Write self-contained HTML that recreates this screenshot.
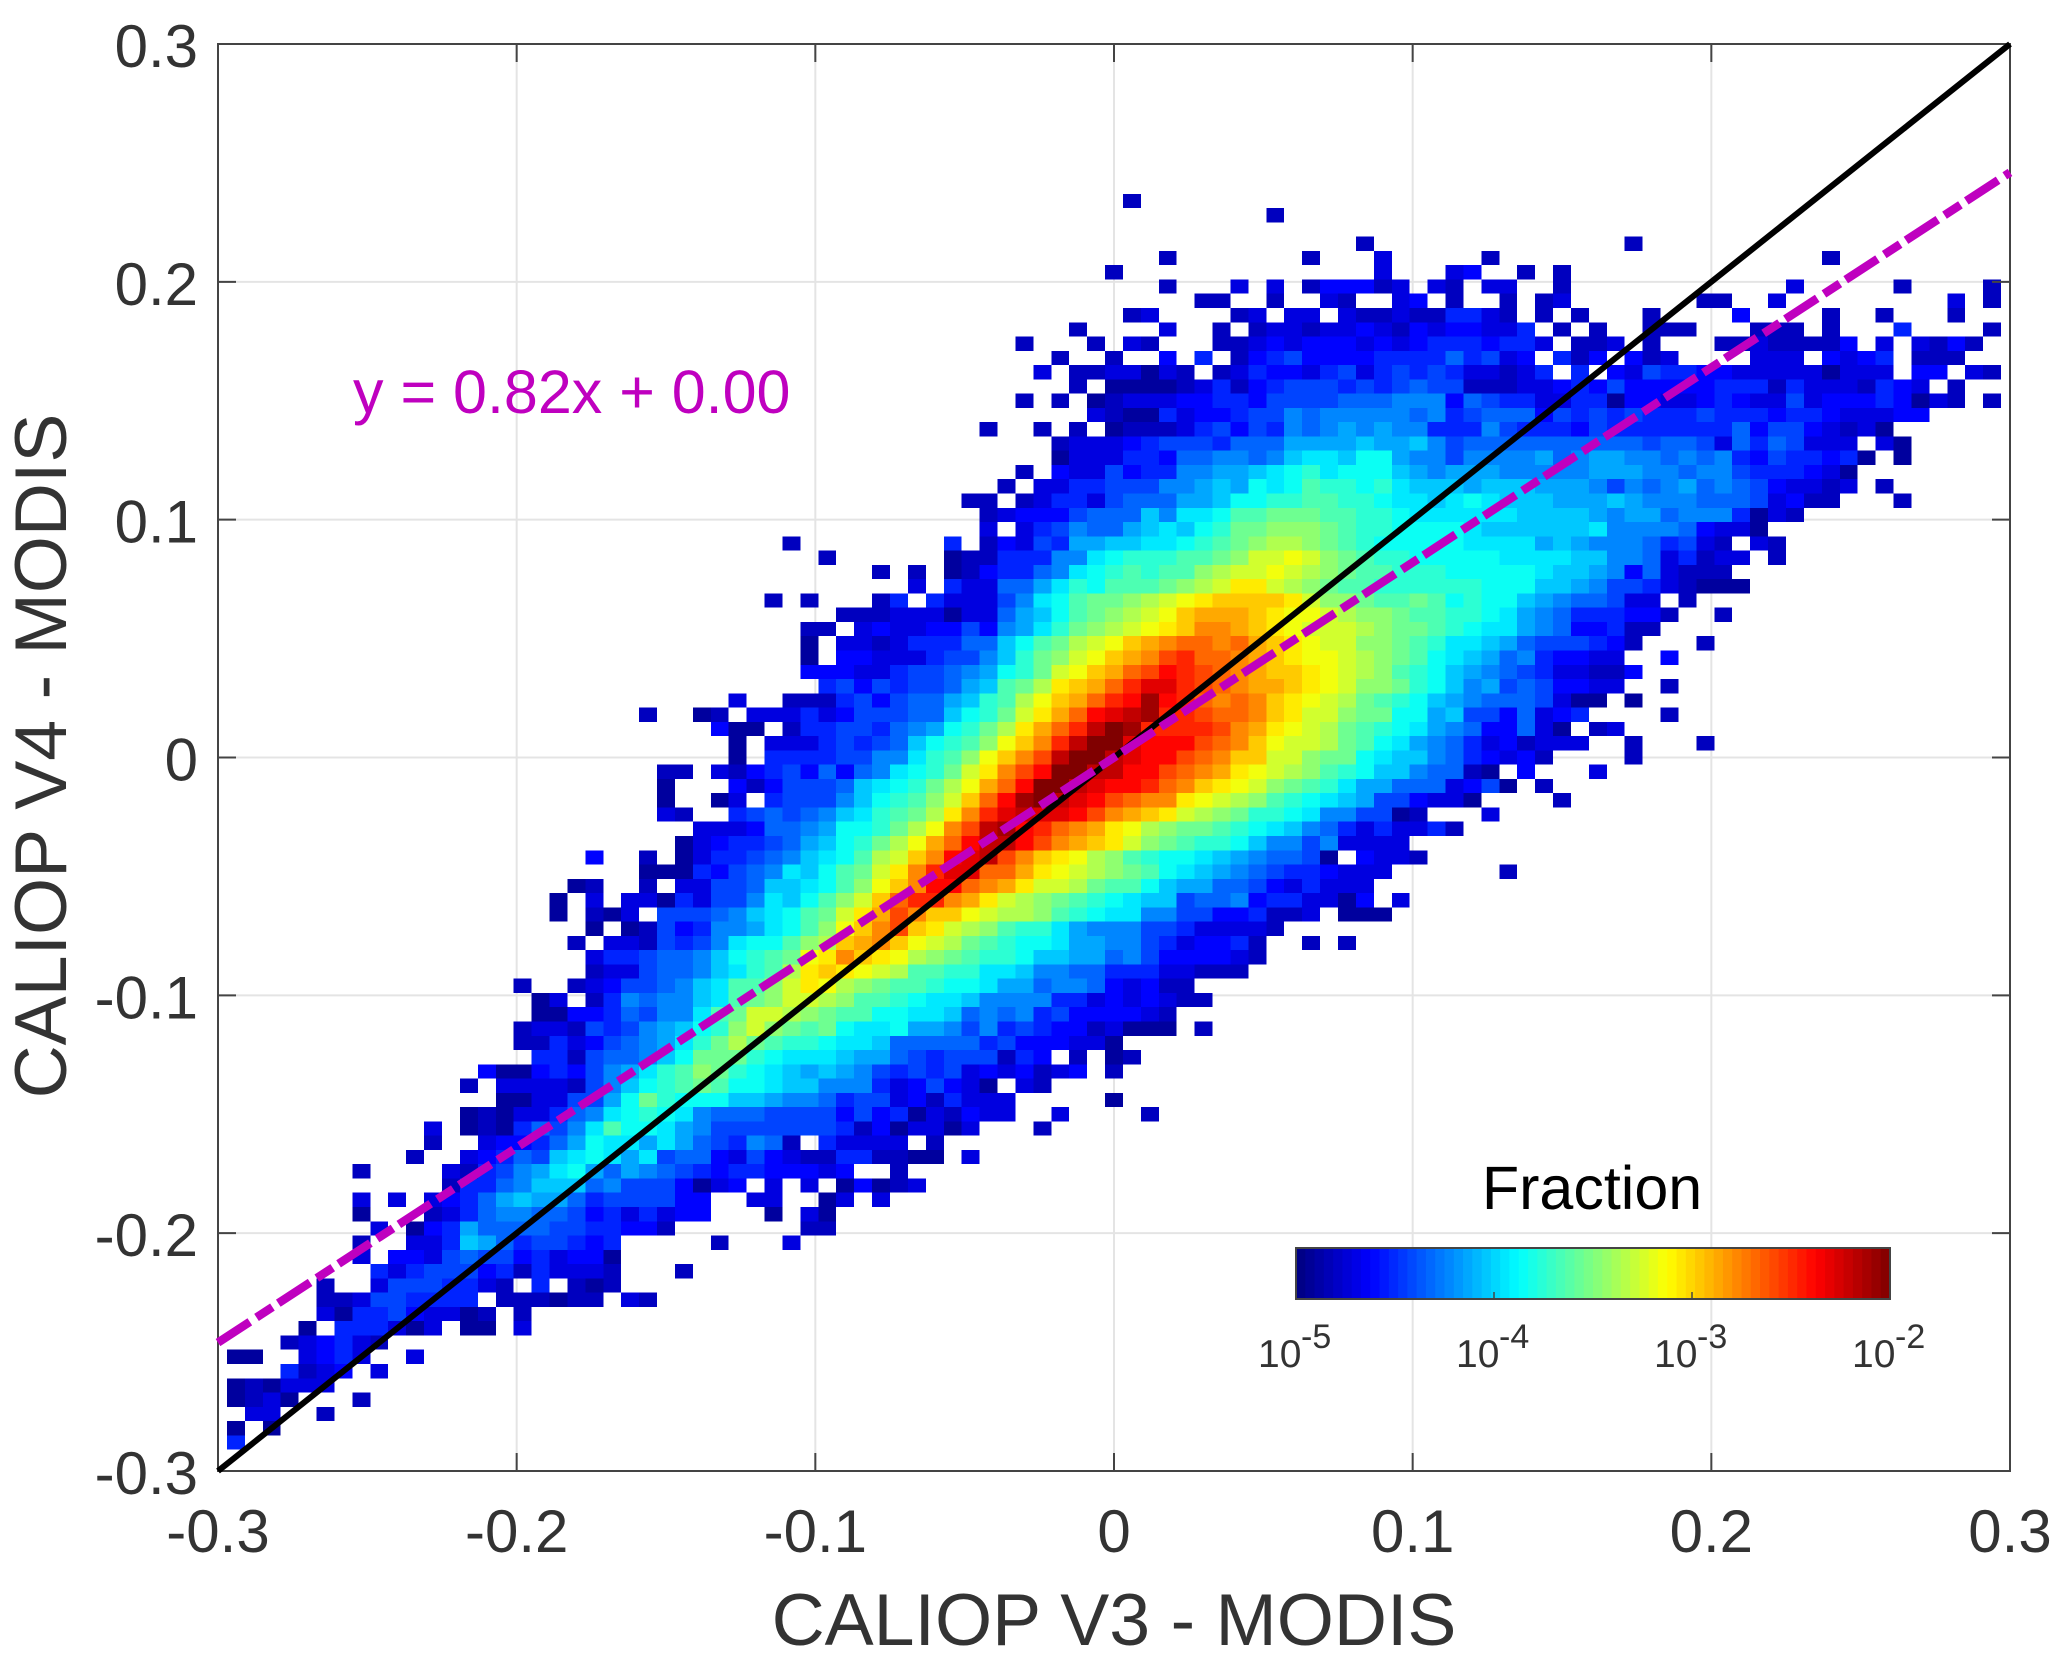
<!DOCTYPE html>
<html lang="en">
<head>
<meta charset="utf-8">
<title>CALIOP V4 vs V3 density</title>
<style>
html,body{margin:0;padding:0;background:#fff;}
svg{display:block;font-family:"Liberation Sans",Arial,sans-serif;}
</style>
</head>
<body>
<svg id="chart" width="2067" height="1665" viewBox="0 0 2067 1665" xmlns="http://www.w3.org/2000/svg">
<g id="grid"></g>
<g id="cells" shape-rendering="crispEdges"></g>
<g id="axes"></g>
<g id="lines"></g>
<g id="colorbar"></g>
<text x="1114" y="1645" text-anchor="middle" font-size="73.5" fill="#333">CALIOP V3 - MODIS</text>
<text transform="translate(66,756) rotate(-90)" text-anchor="middle" font-size="73.5" fill="#333">CALIOP V4 - MODIS</text>
<text x="353" y="413" font-size="61" fill="#bf00bf">y = 0.82x + 0.00</text>
<text x="1592" y="1209" text-anchor="middle" font-size="61" fill="#000">Fraction</text>
</svg>
<script>
const xTickValues = [-0.3, -0.2, -0.1, 0, 0.1, 0.2, 0.3];
const yTickValues = [-0.3, -0.2, -0.1, 0, 0.1, 0.2, 0.3];
const colorbarExponents = [-5, -4, -3, -2];
const fitSlope = [0.82];
const fitIntercept = [0.00];
const identityEnds = [-0.3, 0.3];
const binSize = 0.006;
const binOriginX = -0.297;
const binOriginY = 0.297;
const firstRowIndex = 10;
/* Cell level L: 0 = no samples, otherwise fraction = 10^(-5 + (L-1)/10). One entry per row, top row first. */
const heatRowStart = [50,58,0,63,52,49,52,54,50,47,44,46,45,47,44,48,42,46,46,44,43,41,42,42,31,33,36,38,30,34,32,32,32,32,33,28,23,27,28,28,24,24,24,24,26,25,20,23,19,18,18,20,19,20,20,16,17,17,16,16,17,14,13,15,13,11,11,10,7,12,7,7,8,7,7,8,5,5,5,4,3,0,3,0,0,1,0,0];
const heatRowLevels = [
[2],
[2],
[],
[2,0,0,0,0,0,0,0,0,0,0,0,0,0,0,2],
[2,0,0,0,0,0,0,0,2,0,0,0,3,0,0,0,0,0,2,0,0,0,0,0,0,0,0,0,0,0,0,0,0,0,0,0,0,2],
[2,0,0,0,0,0,0,0,0,0,0,0,0,0,0,3,0,0,0,3,4,0,0,2,0,2],
[2,0,0,0,3,0,3,0,2,4,4,4,2,3,0,3,2,0,3,3,0,0,2,0,0,0,0,0,0,0,0,0,0,0,0,3,0,0,0,0,0,2,0,0,0,0,2],
[2,2,0,0,2,0,0,3,2,0,0,3,4,0,2,0,0,2,0,2,3,0,0,0,0,0,0,0,2,2,0,0,3,0,0,0,0,0,0,0,0,0,3,0,2],
[2,3,0,0,0,0,2,3,0,3,3,0,3,2,2,3,2,2,5,5,3,2,0,2,0,2,0,0,0,2,0,0,0,0,4,0,0,0,0,2,0,0,2,0,0,0,2],
[2,0,0,0,0,3,0,0,2,0,2,3,3,2,3,3,4,3,2,4,3,4,4,3,3,5,0,2,0,2,0,0,2,2,2,0,0,0,2,2,2,0,2,0,0,0,5,0,0,0,0,2],
[2,0,0,0,2,0,3,2,0,0,0,2,2,3,4,3,4,4,4,3,4,3,4,5,5,5,4,5,5,3,0,2,2,3,0,2,0,0,0,2,2,3,2,2,2,2,4,0,3,0,3,2,4,2],
[2,0,0,2,0,0,4,0,5,0,2,4,5,6,4,4,4,4,5,5,5,5,7,5,6,3,4,0,5,2,4,0,4,2,3,0,0,0,0,3,3,3,0,4,3,4,5,0,2,2,2],
[3,0,2,2,3,3,1,3,2,0,2,3,5,4,4,3,5,6,3,5,6,5,6,5,3,3,2,3,5,0,5,0,4,3,6,5,5,4,4,3,3,3,3,3,1,3,3,3,0,4,4,0,3,2],
[2,0,1,1,1,1,2,3,5,2,4,5,6,6,6,5,6,5,6,7,6,6,2,2,2,3,3,4,5,4,6,4,4,4,4,4,5,5,5,2,5,3,3,3,2,5,4,3,0,2],
[2,0,2,0,1,2,3,3,3,4,4,5,5,4,6,6,6,6,7,7,7,8,8,8,4,7,6,5,5,3,3,5,5,1,4,4,3,3,4,5,4,3,3,6,3,4,4,4,5,4,1,3,2,0,2],
[3,2,1,1,5,3,4,4,5,6,6,8,7,8,8,8,8,8,7,8,5,6,7,7,7,4,6,5,6,5,6,5,5,5,6,5,5,5,4,5,5,4,3,3,3,4,4],
[2,0,0,2,0,2,0,1,2,2,2,3,5,6,4,6,5,8,7,8,9,8,9,8,8,5,5,5,8,6,5,5,5,4,6,5,5,5,5,5,5,5,7,4,6,6,4,3,2,3,1],
[2,3,3,3,4,5,6,6,6,5,7,7,7,9,9,9,9,10,9,9,10,8,6,7,7,7,7,7,7,7,7,7,7,6,7,7,6,3,7,5,7,6,3,3,3,0,3,1],
[1,3,3,3,5,5,4,7,7,8,8,7,8,10,11,11,10,12,12,9,8,8,6,8,8,8,8,9,7,8,9,9,8,8,7,8,7,8,5,4,6,5,5,4,5,1,0,1],
[2,0,4,3,3,6,4,5,5,8,8,9,9,10,11,12,13,11,12,12,12,10,9,8,9,9,9,8,8,8,8,8,9,9,9,8,8,7,8,8,6,5,5,5,4,3,1],
[2,0,3,3,5,5,6,6,6,8,8,9,10,9,12,11,12,14,13,13,12,13,11,10,10,10,9,10,10,10,9,9,9,8,6,8,7,8,9,7,8,7,6,4,3,3,2,3,0,2],
[2,2,0,2,3,5,5,3,6,7,7,7,9,9,10,12,12,13,13,14,14,13,13,12,11,11,10,11,12,11,10,10,10,9,9,9,10,9,8,8,8,7,7,7,6,3,4,2,2,0,0,0,2],
[2,3,4,4,4,6,7,7,7,10,8,11,11,12,14,14,15,15,15,14,14,13,13,12,11,11,11,11,11,11,10,10,10,10,9,8,9,9,7,8,8,8,5,1,3,2],
[3,0,3,5,6,8,7,7,9,10,11,10,12,13,15,15,16,16,16,15,14,13,13,12,12,12,12,11,10,10,10,10,10,10,11,8,8,8,8,7,4,3,3,1],
[2,0,0,0,0,0,0,0,0,5,0,2,4,3,6,5,9,9,10,10,11,11,12,13,14,15,16,17,17,16,15,14,13,12,12,12,12,12,11,11,11,11,9,10,9,8,8,8,7,5,6,3,2,0,3,2],
[2,0,0,0,0,0,0,1,2,2,5,5,5,8,8,11,12,13,13,13,14,14,15,16,18,18,19,18,16,15,14,13,13,12,12,12,12,12,11,11,11,11,10,10,8,8,7,3,5,2,3,3,0,2],
[2,0,2,0,1,2,4,5,5,7,8,11,12,13,14,13,14,14,16,17,18,18,19,18,17,16,15,14,14,13,13,13,12,12,12,12,12,11,10,10,9,8,4,7,3,2,2,2],
[3,0,5,3,3,7,7,9,11,13,12,14,14,14,15,16,17,18,20,20,18,17,16,15,14,14,13,13,13,13,13,13,12,12,12,10,10,9,8,6,6,5,3,2,1,1,1],
[2,0,2,0,0,0,2,5,0,5,3,3,3,6,8,11,12,14,15,15,16,17,18,19,20,21,21,21,21,20,18,16,16,15,14,14,15,14,12,13,12,12,10,9,8,7,7,6,3,3,0,2],
[2,2,2,3,3,3,1,3,3,7,9,10,12,14,15,16,17,18,19,21,22,22,22,21,20,19,19,18,17,16,16,15,14,14,13,13,12,11,9,8,7,5,5,5,4,4,2,0,0,2],
[2,2,0,3,4,3,3,4,4,6,4,8,9,11,13,15,16,17,18,19,20,21,23,23,22,21,20,19,18,18,18,17,16,15,15,14,13,12,11,11,9,8,7,4,4,5,2,2],
[1,0,3,3,2,3,5,5,5,7,7,10,12,14,15,17,18,19,21,22,23,24,24,23,24,22,21,20,19,18,18,16,16,15,14,13,11,11,10,9,7,6,6,6,5,4,2,0,0,0,2],
[1,0,4,4,3,3,3,5,6,6,8,10,13,15,16,18,19,21,22,23,25,26,24,24,23,22,21,20,19,19,18,17,16,15,14,12,11,10,9,7,8,5,4,4,3,3,0,0,4],
[4,4,4,3,3,5,6,6,7,8,9,12,13,15,18,19,21,22,24,25,27,26,25,24,23,22,21,21,20,19,18,17,16,14,13,12,10,9,8,7,6,5,3,3,2,2,4],
[5,6,4,6,5,6,6,7,9,10,14,15,17,20,21,22,24,26,28,28,26,25,24,23,22,22,21,20,19,18,16,16,15,13,12,10,8,9,6,7,6,4,4,3,3,0,0,2],
[3,0,0,2,2,2,5,6,4,6,7,7,9,10,13,14,17,19,21,22,24,26,27,30,27,26,24,23,24,23,21,20,19,18,17,15,14,13,12,10,9,8,7,7,7,6,3,1,1,0,1],
[2,0,0,1,2,0,3,3,3,5,3,4,6,6,6,7,7,10,12,13,15,18,20,22,24,27,28,29,30,26,26,25,24,24,23,21,20,18,18,16,15,15,12,12,9,10,6,6,4,7,3,4,5,0,0,0,0,2],
[4,1,1,0,2,5,5,6,6,5,7,8,9,12,13,15,17,20,22,24,26,29,31,30,26,26,26,26,25,23,22,20,19,18,17,15,14,13,12,11,9,8,7,4,4,7,3,1,0,2,3],
[1,0,3,3,3,5,6,5,6,7,10,12,13,14,16,19,21,23,26,29,31,31,28,27,27,27,25,24,23,21,19,18,18,17,15,14,12,11,9,8,7,5,3,4,2,3,3,3,0,0,2,0,0,0,2],
[1,0,5,5,5,5,6,6,8,8,11,13,14,16,19,21,23,25,29,31,31,29,28,27,27,25,24,23,21,21,18,18,16,15,15,12,11,10,10,8,7,5,4,3,4,2,0,0,0,0,2],
[2,2,0,3,2,4,5,6,4,7,4,7,8,11,12,13,15,18,20,23,25,27,31,31,29,29,27,27,25,24,23,22,20,19,18,17,16,14,13,12,10,10,8,7,7,2,1,0,4,0,0,0,3],
[1,0,0,0,4,2,4,6,6,6,7,10,11,12,13,15,17,19,22,24,27,31,31,29,28,27,27,26,24,23,21,20,19,18,16,15,14,13,11,9,9,7,7,7,3,4,6,1,0,2],
[1,0,0,1,3,0,5,6,6,6,8,10,12,13,14,16,18,21,24,27,30,31,29,28,27,25,24,23,23,20,19,18,17,16,14,13,12,11,10,9,6,6,4,3,3,1,0,0,0,0,2],
[3,2,0,0,5,6,7,6,7,8,10,11,13,14,15,17,20,23,26,28,29,28,28,27,25,23,22,21,20,18,17,16,15,13,13,12,11,8,8,6,6,1,2,0,0,0,3],
[3,3,3,4,7,7,8,9,12,12,13,15,17,19,23,25,29,30,27,26,24,23,22,20,19,17,16,15,15,14,13,12,11,10,8,7,5,3,5,3,3,5,2],
[1,3,4,5,5,6,7,9,10,12,13,15,17,19,22,24,27,29,29,27,25,23,22,21,20,18,16,15,14,13,13,12,10,8,8,6,8,3,3,3,3],
[4,0,0,2,0,1,3,5,5,6,7,8,10,11,12,14,17,18,21,23,27,28,29,25,23,21,20,19,17,16,14,13,12,12,11,10,9,8,7,7,6,1,0,4,3,3,2],
[1,1,1,5,4,6,7,8,11,10,12,14,15,18,20,23,26,28,28,24,24,22,20,19,18,17,16,15,14,12,11,10,9,8,7,6,5,5,4,3,3,3,0,0,0,0,0,0,2],
[1,2,0,0,2,0,3,3,6,6,7,10,10,11,12,14,16,19,21,23,27,27,24,23,22,20,18,18,17,15,14,14,12,10,9,9,7,7,6,4,3,5,3,3,3],
[1,0,3,0,3,3,1,5,3,6,6,8,11,10,12,14,16,18,21,24,26,26,23,22,20,18,17,16,15,14,13,12,11,10,10,6,7,7,8,4,5,5,3,3,1,4,0,3],
[1,0,2,1,3,0,6,6,6,7,8,10,11,12,14,15,18,20,22,25,23,21,21,19,18,17,17,16,14,13,12,11,11,8,8,6,6,4,4,5,2,2,3,0,1,1,1],
[1,0,1,2,6,4,5,8,8,9,11,12,14,16,19,21,23,25,21,20,18,17,16,14,13,13,11,9,8,8,8,6,6,5,3,3,3,3,2],
[2,0,3,3,2,6,5,6,8,11,12,12,14,16,17,21,22,23,21,19,18,17,15,14,13,12,12,11,9,9,8,8,6,5,3,4,4,5,2,0,0,2,0,2],
[3,5,5,6,7,7,8,10,12,13,14,15,19,20,23,21,20,19,17,16,15,14,13,13,12,10,10,9,9,7,8,6,4,4,4,4,3,2],
[2,3,3,6,7,7,8,10,11,13,14,17,20,21,20,19,18,17,14,14,13,13,11,11,10,8,8,7,7,5,5,5,3,3,2,2,2],
[2,0,0,2,3,4,6,6,7,8,10,11,14,14,16,18,20,19,17,16,15,14,14,13,12,12,11,9,9,7,8,8,7,4,3,4,2,2],
[1,3,0,2,5,8,7,8,8,10,11,14,15,16,18,18,17,16,14,14,13,12,11,11,10,8,8,8,8,5,5,3,4,3,4,3,2,2],
[1,1,4,4,5,7,6,8,8,11,14,15,18,18,17,16,15,14,14,12,12,11,11,10,7,8,7,8,5,6,4,4,4,4,3,2],
[2,3,3,2,6,5,6,8,9,10,12,13,16,18,16,15,14,15,12,11,11,12,9,9,8,6,8,5,6,5,4,4,2,3,1,1,1,0,2],
[2,2,5,3,4,6,7,8,9,11,13,15,17,15,14,13,13,12,11,11,10,7,7,7,7,7,5,6,4,4,4,3,3,1],
[5,5,2,6,7,7,8,10,12,15,15,15,13,12,11,11,11,10,9,9,7,6,5,6,6,6,2,5,4,0,2,0,1,2],
[4,1,1,4,5,4,6,8,9,11,13,14,16,15,13,12,11,10,9,10,9,8,6,5,6,5,6,3,4,3,4,2,3,4,0,2],
[2,0,3,3,3,3,2,6,8,10,12,13,14,15,14,12,12,11,10,10,8,8,8,5,3,4,6,4,3,1,0,3,2],
[1,1,3,3,6,6,9,12,15,13,12,12,12,10,10,9,8,8,7,5,6,6,3,4,2,5,3,3,3,0,0,0,0,0,1],
[1,2,1,3,3,5,7,8,11,12,13,12,11,8,7,7,7,6,6,6,6,4,6,4,5,1,3,2,4,3,3,0,0,3,0,0,0,0,2],
[3,0,1,2,1,5,7,6,8,11,14,12,12,11,9,8,6,6,6,6,6,6,6,5,2,4,1,3,3,1,3,0,0,0,2],
[2,0,0,3,4,4,5,7,9,12,11,11,9,11,9,7,6,5,8,7,2,0,5,3,3,3,3,0,2],
[2,0,0,3,4,5,7,6,10,11,12,11,9,11,6,7,7,4,3,6,4,3,2,2,5,5,2,2,1,1,0,3],
[2,0,0,0,0,3,2,5,6,8,9,11,12,9,7,9,8,7,6,5,4,5,5,4,4,4,3,4,0,0,2],
[2,5,5,7,8,10,10,10,7,8,6,6,6,4,1,3,4,0,3,0,3,0,1,4,1,2,3],
[3,0,3,0,3,4,5,7,9,10,9,9,7,5,6,6,6,6,4,4,0,0,3,3,0,0,1,3,0,3],
[1,0,0,0,2,3,5,7,8,8,7,7,6,4,5,3,5,3,4,4,0,0,0,1,0,3,1],
[3,0,1,4,5,9,7,7,7,7,6,6,5,5,4,4,2,0,0,0,0,0,0,0,2,2],
[2,0,0,3,3,5,10,9,7,5,6,6,5,4,5,0,0,0,0,0,2,0,0,0,3],
[3,0,4,4,3,6,7,6,6,4,5,3,4,4,1],
[5,3,5,6,6,6,4,5,2,5,3,3,3,2,0,0,0,2],
[2,0,0,3,6,6,6,5,5,3,2,0,5,0,2,1,2],
[2,2,3,6,6,5,5,5,5,0,2,2,2,1,2,2,0,3,2],
[3,1,5,5,6,4,3,3,1,2,0,2],
[1,0,5,5,5,3,1,3,0,1,1,0,3],
[2,3,4,5,3,2],
[1,1,0,0,3,4,5,3,0,0,3],
[5,2,3,4,0,3],
[1,2,1,3,3,3],
[1,2,3,1,0,0,0,2],
[3,3,0,0,2],
[1,0,1],
[5]
];

const NS = 'http://www.w3.org/2000/svg';
const PLOT = {left: 218, right: 2010, top: 44, bottom: 1471};
const xScale = v => PLOT.left + (v + 0.3) / 0.6 * (PLOT.right - PLOT.left);
const yScale = v => PLOT.bottom - (v + 0.3) / 0.6 * (PLOT.bottom - PLOT.top);
const levelToFraction = L => Math.pow(10, -5 + (L - 1) / 10);
const fractionToUnit = f => (Math.log10(f) + 5) / 3;
const cellColorLift = t => 0.03 + t * 0.97;

function jet(t) {
  t = Math.max(0, Math.min(1, t));
  const ch = c => Math.round(255 * Math.max(0, Math.min(1, 1.5 - Math.abs(4 * t - c))));
  return 'rgb(' + ch(3) + ',' + ch(2) + ',' + ch(1) + ')';
}
function add(parent, tag, attrs, text) {
  const el = document.createElementNS(NS, tag);
  for (const k in attrs) el.setAttribute(k, attrs[k]);
  if (text !== undefined) el.textContent = text;
  parent.appendChild(el);
  return el;
}
const gridG = document.getElementById('grid');
const cellsG = document.getElementById('cells');
const axesG = document.getElementById('axes');
const linesG = document.getElementById('lines');
const cbG = document.getElementById('colorbar');

/* grid lines */
xTickValues.slice(1, -1).forEach(v => {
  const el = add(gridG, 'line', {x1: xScale(v), x2: xScale(v), y1: PLOT.top, y2: PLOT.bottom, stroke: '#e4e4e4', 'stroke-width': 2});
  
  
});
yTickValues.slice(1, -1).forEach(v => {
  const el = add(gridG, 'line', {x1: PLOT.left, x2: PLOT.right, y1: yScale(v), y2: yScale(v), stroke: '#e4e4e4', 'stroke-width': 2});
  
  
});

/* heatmap cells */
heatRowLevels.forEach((levels, i) => {
  const rowTop = binOriginY - (firstRowIndex + i) * binSize;
  levels.forEach((level, j) => {
    if (!level) return;
    const colLeft = binOriginX + (heatRowStart[i] + j) * binSize;
    const x0 = xScale(colLeft), x1 = xScale(colLeft + binSize);
    const y0 = yScale(rowTop), y1 = yScale(rowTop - binSize);
    const el = add(cellsG, 'rect', {x: x0.toFixed(2), y: y0.toFixed(2), width: (x1 - x0).toFixed(2), height: (y1 - y0).toFixed(2), fill: jet(cellColorLift(fractionToUnit(levelToFraction(level))))});
    
    
  });
});

/* axes box and ticks */
const box = add(axesG, 'rect', {x: PLOT.left, y: PLOT.top, width: PLOT.right - PLOT.left, height: PLOT.bottom - PLOT.top, fill: 'none', stroke: '#444', 'stroke-width': 2});


const TICK = 18;
xTickValues.forEach(v => {
  const x = xScale(v);
  const t1 = add(axesG, 'line', {x1: x, x2: x, y1: PLOT.bottom, y2: PLOT.bottom - TICK, stroke: '#444', 'stroke-width': 2});
  
  
  const t2 = add(axesG, 'line', {x1: x, x2: x, y1: PLOT.top, y2: PLOT.top + TICK, stroke: '#444', 'stroke-width': 2});
  
  
  const lab = add(axesG, 'text', {x: x, y: 1552, 'text-anchor': 'middle', 'font-size': 60, fill: '#333'}, String(v));
  
  
});
yTickValues.forEach(v => {
  const y = yScale(v);
  const t1 = add(axesG, 'line', {x1: PLOT.left, x2: PLOT.left + TICK, y1: y, y2: y, stroke: '#444', 'stroke-width': 2});
  
  
  const t2 = add(axesG, 'line', {x1: PLOT.right, x2: PLOT.right - TICK, y1: y, y2: y, stroke: '#444', 'stroke-width': 2});
  
  
  const lab = add(axesG, 'text', {x: 198, y: y + 23, 'text-anchor': 'end', 'font-size': 60, fill: '#333'}, String(v));
  
  
});

/* one-to-one and fit lines */
const identity = add(linesG, 'line', {x1: xScale(identityEnds[0]), y1: yScale(identityEnds[0]), x2: xScale(identityEnds[1]), y2: yScale(identityEnds[1]), stroke: '#000', 'stroke-width': 6});


const fit = add(linesG, 'line', {x1: xScale(identityEnds[0]), y1: yScale(fitSlope[0] * identityEnds[0] + fitIntercept[0]), x2: xScale(identityEnds[1]), y2: yScale(fitSlope[0] * identityEnds[1] + fitIntercept[0]), stroke: '#bf00bf', 'stroke-width': 8.5, 'stroke-dasharray': '38 8 19 7'});



/* colorbar */
const CB = {left: 1296, right: 1890, top: 1248, bottom: 1299};
const cbX = e => CB.left + (e + 5) / 3 * (CB.right - CB.left);
const CB_STEPS = 64;
for (let i = 0; i < CB_STEPS; i++) {
  const x0 = CB.left + i / CB_STEPS * (CB.right - CB.left);
  const x1 = CB.left + (i + 1) / CB_STEPS * (CB.right - CB.left);
  const el = add(cbG, 'rect', {x: x0.toFixed(2), y: CB.top, width: (x1 - x0 + 0.5).toFixed(2), height: CB.bottom - CB.top, fill: jet((i + 0.5) / CB_STEPS)});
  
  
}
const cbFrame = add(cbG, 'rect', {x: CB.left, y: CB.top, width: CB.right - CB.left, height: CB.bottom - CB.top, fill: 'none', stroke: '#444', 'stroke-width': 2});


colorbarExponents.forEach(e => {
  const x = cbX(e);
  const tick = add(cbG, 'line', {x1: x, x2: x, y1: CB.bottom, y2: CB.bottom - 7, stroke: '#444', 'stroke-width': 1.5});
  
  
  const base = add(cbG, 'text', {x: x - 38, y: 1367, 'font-size': 39, fill: '#333'}, '10');
  
  
  const sup = add(cbG, 'text', {x: x + 5, y: 1348, 'font-size': 34, fill: '#333'}, String(e));
  
  
});
</script>
</body>
</html>
